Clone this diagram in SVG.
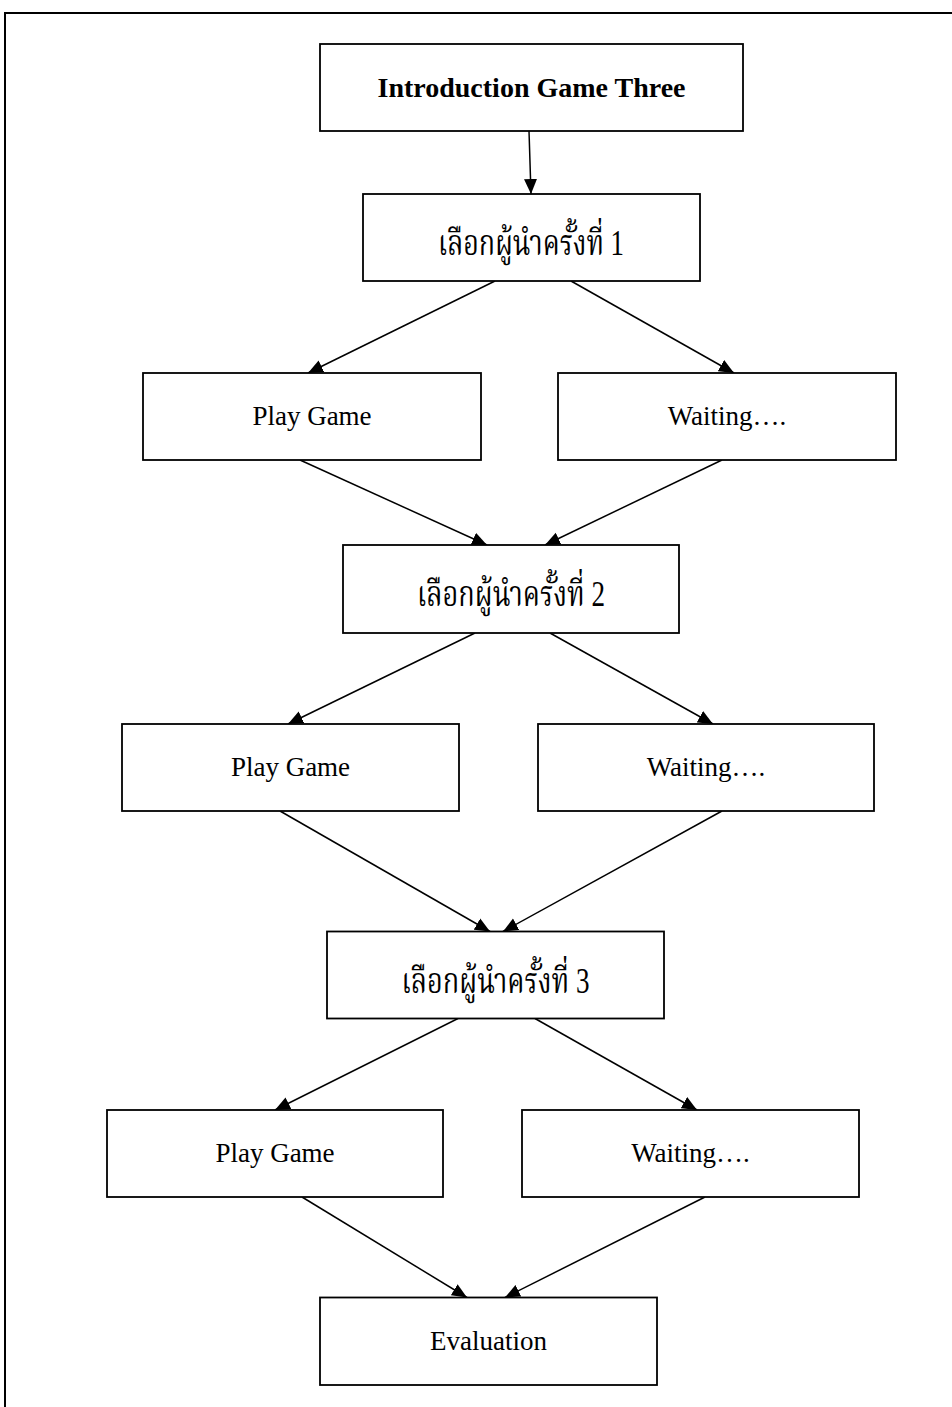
<svg xmlns="http://www.w3.org/2000/svg" width="952" height="1407" viewBox="0 0 952 1407">
  <style>
    .box { fill: #ffffff; stroke: #000000; stroke-width: 1.8; }
    .frame { fill: none; stroke: #000000; stroke-width: 2; }
    .edge { fill: none; stroke: #000000; stroke-width: 1.5; marker-end: url(#arrow); }
    .lbl { font-family: "Liberation Serif", "Times New Roman", serif; font-size: 27px; fill: #000000; text-anchor: middle; }
    .title { font-weight: bold; font-size: 28px; }
    .thai { font-family: "Liberation Serif", "Noto Serif Thai", "Noto Sans Thai", "Garuda", "Loma", serif; font-size: 35px; }
  </style>
  <defs>
    <marker id="arrow" markerUnits="userSpaceOnUse" markerWidth="16" markerHeight="14" refX="15" refY="7" orient="auto">
      <path d="M0,0.5 L15,7 L0,13.5 z" fill="#000000"/>
    </marker>
  </defs>

  <rect width="952" height="1407" fill="#ffffff"/>
  <!-- page frame, continues past the right and bottom edges -->
  <rect class="frame" x="5" y="13" width="1000" height="1500"/>

  <g id="connectors">
    <line class="edge" x1="529" y1="131" x2="531" y2="194"/>
    <line class="edge" x1="495" y1="281" x2="308" y2="373"/>
    <line class="edge" x1="571" y1="281" x2="734" y2="373"/>
    <line class="edge" x1="300" y1="460" x2="487" y2="545"/>
    <line class="edge" x1="722" y1="460" x2="545" y2="545"/>
    <line class="edge" x1="475" y1="633" x2="288" y2="724"/>
    <line class="edge" x1="550" y1="633" x2="713" y2="724"/>
    <line class="edge" x1="280" y1="811" x2="490" y2="931.5"/>
    <line class="edge" x1="722" y1="811" x2="503" y2="931.5"/>
    <line class="edge" x1="458" y1="1018.5" x2="275" y2="1110"/>
    <line class="edge" x1="535" y1="1018.5" x2="697" y2="1110"/>
    <line class="edge" x1="302" y1="1197" x2="467" y2="1297.5"/>
    <line class="edge" x1="705" y1="1197" x2="505" y2="1297.5"/>
  </g>

  <g id="intro">
    <rect class="box" x="320" y="44" width="423" height="87"/>
    <text class="lbl title" x="531.5" y="97">Introduction Game Three</text>
  </g>

  <g id="select1">
    <rect class="box" x="363" y="194" width="337" height="87"/>
    <text class="lbl thai" x="531" y="255" textLength="186" lengthAdjust="spacingAndGlyphs">เลือกผู้นำครั้งที่ 1</text>
  </g>
  <g id="play1">
    <rect class="box" x="143" y="373" width="338" height="87"/>
    <text class="lbl" x="312" y="425">Play Game</text>
  </g>
  <g id="wait1">
    <rect class="box" x="558" y="373" width="338" height="87"/>
    <text class="lbl" x="727" y="425">Waiting….</text>
  </g>

  <g id="select2">
    <rect class="box" x="343" y="545" width="336" height="88"/>
    <text class="lbl thai" x="511" y="606" textLength="188" lengthAdjust="spacingAndGlyphs">เลือกผู้นำครั้งที่ 2</text>
  </g>
  <g id="play2">
    <rect class="box" x="122" y="724" width="337" height="87"/>
    <text class="lbl" x="290.5" y="776">Play Game</text>
  </g>
  <g id="wait2">
    <rect class="box" x="538" y="724" width="336" height="87"/>
    <text class="lbl" x="706" y="776">Waiting….</text>
  </g>

  <g id="select3">
    <rect class="box" x="327" y="931.5" width="337" height="87"/>
    <text class="lbl thai" x="495.5" y="992.5" textLength="188" lengthAdjust="spacingAndGlyphs">เลือกผู้นำครั้งที่ 3</text>
  </g>
  <g id="play3">
    <rect class="box" x="107" y="1110" width="336" height="87"/>
    <text class="lbl" x="275" y="1162">Play Game</text>
  </g>
  <g id="wait3">
    <rect class="box" x="522" y="1110" width="337" height="87"/>
    <text class="lbl" x="690.5" y="1162">Waiting….</text>
  </g>

  <g id="evaluation">
    <rect class="box" x="320" y="1297.5" width="337" height="87.5"/>
    <text class="lbl" x="488.5" y="1349.5">Evaluation</text>
  </g>
</svg>
